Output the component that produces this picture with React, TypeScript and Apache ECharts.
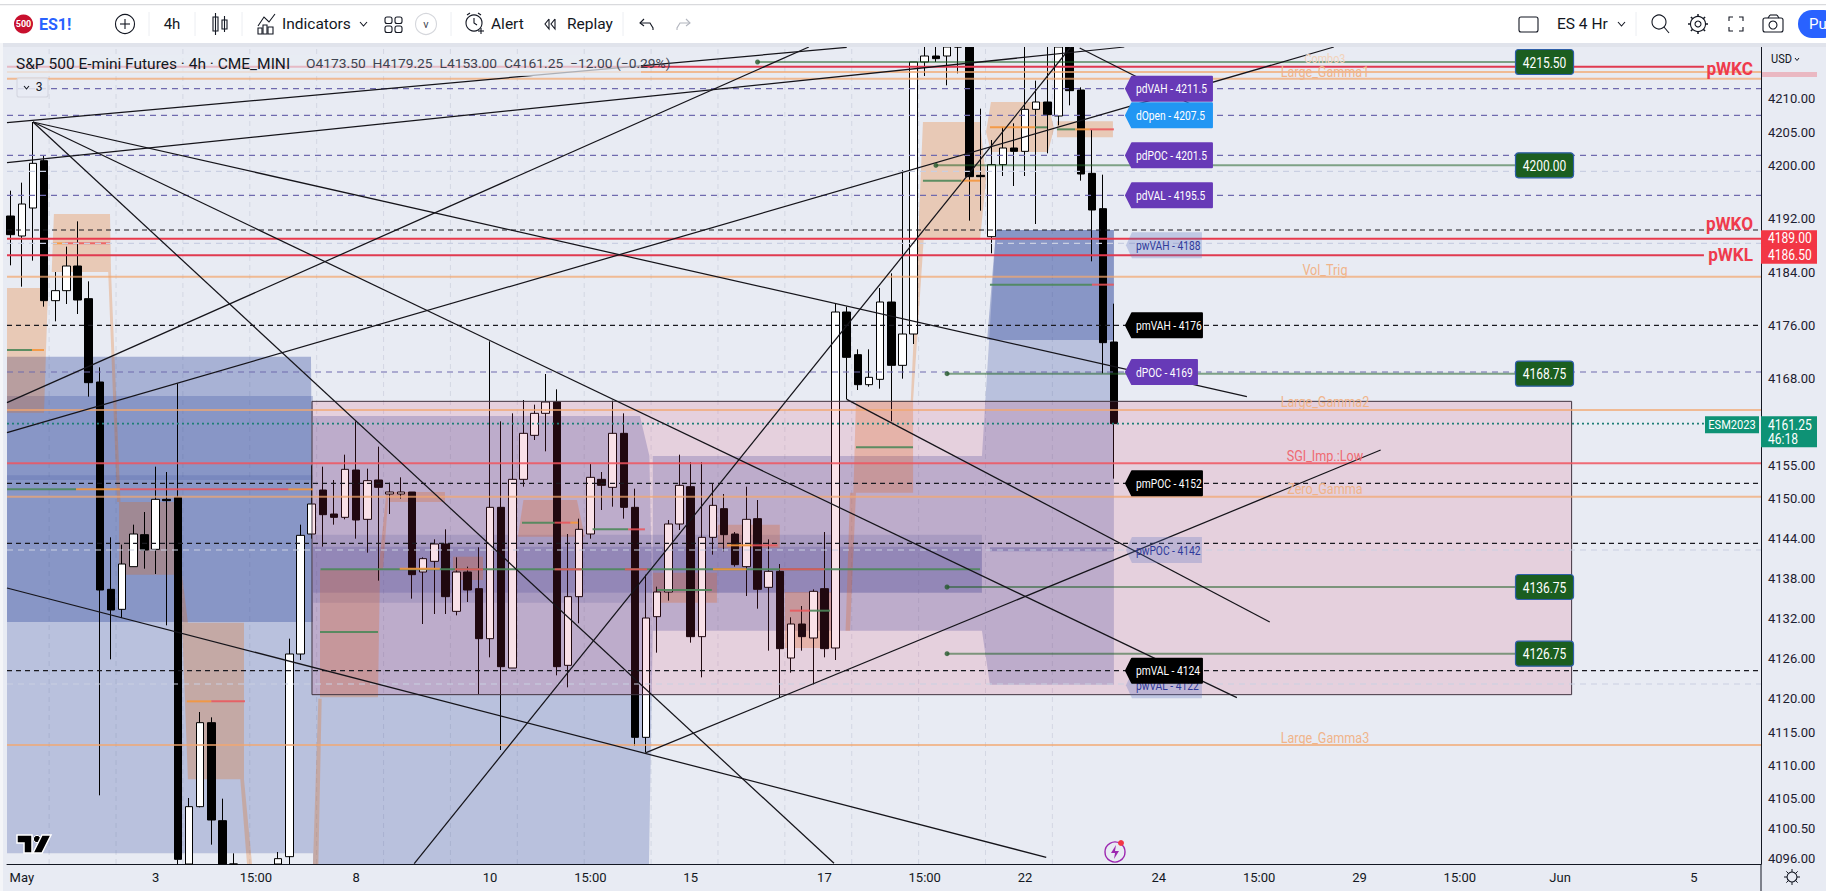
import React, { useEffect, useRef } from "react";
import * as echarts from "echarts";

// ---------- candles (bar index = array index) ----------
const opens = [4192.4,4189.4,4193.6,4200.7,4179.7,4181.2,4184.9,4180,4167.5,4136.4,4133.4,4139.8,4144.6,4142.4,4149.9,4150.2,4090,4103.8,4116.4,4101.7,4090,4088,4086,4088,4089,4096.3,4126.7,4144.7,4151.3,4147.7,4147.2,4154.3,4146.9,4152.8,4150.7,4150.7,4151,4139,4140.6,4143.2,4133.1,4139,4136.5,4129,4148.7,4124.6,4152.9,4159.5,4162.8,4164.5,4125,4135.3,4144.7,4152.9,4151.7,4159.8,4148.7,4114.2,4132.3,4136,4146.2,4151.8,4129.3,4144.2,4148.5,4144.7,4139.8,4147,4136.7,4139.1,4126.1,4131.2,4129.1,4136.5,4127.6,4178,4171.6,4167.1,4167.9,4179.5,4170,4174.7,4215.5,4216.4,4216.4,4221,4224,4198.5,4189.3,4200.1,4202.6,4202.1,4208.4,4209.5,4207.4,4220,4211.3,4198.8,4193.5,4173.5];
const closes = [4189.6,4194.2,4200.3,4179.7,4181.2,4184.9,4179.8,4167.4,4136.3,4133.3,4140.2,4144.7,4142.3,4149.9,4149.7,4095.9,4103.8,4116.4,4101.8,4090,4088,4086,4088,4089,4096,4126.7,4144.5,4149.2,4147.6,4147.2,4154.4,4146.8,4152.7,4151.7,4151,4151,4138.6,4141,4143.2,4135.3,4139,4136.3,4129,4148.7,4124.8,4152.9,4159.8,4162.8,4164.5,4124.8,4135.3,4145.4,4153.2,4152,4159.8,4148.7,4114.2,4132.1,4136,4146.2,4152,4129.3,4144.2,4149,4144.6,4140.1,4146.9,4136.4,4139.1,4127.5,4131.2,4129.3,4136.1,4127.5,4178,4171.2,4167.1,4168.2,4179.5,4170,4174.7,4215.5,4216.4,4216,4218.6,4219,4198.3,4198.3,4200.1,4202.6,4202.1,4208.4,4209.5,4207.6,4220,4211.2,4198.7,4193.3,4173.4,4161.25];
const lows = [4185,4181.8,4185.7,4178.8,4176.6,4179.2,4177.7,4165.3,4105.5,4125.9,4132.1,4139.8,4139.5,4138.7,4131,4094,4088,4103.7,4098.1,4088,4085,4084,4083,4085,4087,4095,4125.8,4144,4142.8,4146.1,4146.9,4144,4141.9,4137.7,4147.7,4150,4135,4131.2,4132.7,4132.7,4132.5,4134.5,4120.7,4126.2,4112.3,4124.6,4151.8,4158.8,4157.1,4123.5,4121.7,4131.3,4144,4148.3,4148.8,4147,4112.9,4111.9,4126.9,4134.7,4145.3,4128.4,4123.2,4141.6,4142.1,4139.8,4135.4,4133.5,4127.2,4120.2,4123.9,4127.2,4122.1,4126.2,4125.8,4164.9,4166.3,4166.8,4166.5,4161.6,4168,4173.2,4213.4,4215.5,4212,4213.8,4191.7,4193.2,4186.8,4198.4,4196.9,4198.4,4191.2,4201.8,4206,4209,4197.7,4185.6,4168.8,4153];
const highs = [4196.2,4197.4,4206.5,4201.4,4184,4187.8,4191.6,4182.6,4169.7,4144.2,4143.1,4146.1,4148,4154.8,4154,4167.3,4105.1,4118,4117.2,4105,4096.8,4090,4091,4092,4097,4129,4146.1,4155,4154.8,4152.8,4156.6,4161.6,4154.5,4157.8,4152.4,4153.2,4151,4141.2,4143.9,4145.4,4141.2,4139.8,4142.7,4173.6,4161.6,4162.8,4164.8,4164.1,4168.7,4166.4,4144.7,4147,4155.2,4154,4164.7,4162.8,4151.5,4138.6,4136.8,4146.8,4156.6,4155.5,4155.5,4152.2,4150.7,4145,4151.8,4149.8,4143.9,4140.2,4132.2,4133.9,4136.4,4145,4179.3,4178.8,4172.4,4172.4,4181.6,4183.8,4199.3,4215.5,4218,4219,4220,4225,4226,4208.5,4203.8,4205.7,4206.3,4222,4212.7,4222,4224,4224,4211.7,4205.3,4198.6,4179.25];

// ---------- axes ----------
const xTickBars = [1,13,22,31,43,52,61,73,82,91,103,112,121,130,139,151];
const xTickTexts = ["May","3","15:00","8","10","15:00","15","17","15:00","22","24","15:00","29","15:00","Jun","5"];
const gridBars = [3.45,9.45,15.45,21.45,27.45,33.45,39.45,45.45,51.45,57.45,63.45,69.45,75.45,81.45,87.45,93.45];
const priceTicks = [4210,4205,4200,4192,4184,4176,4168,4155,4150,4144,4138,4132,4126,4120,4115,4110,4105,4100.5,4096];
const X_MIN = -0.33, X_MAX = 157.02, Y_MIN = 4095.2, Y_MAX = 4217.75;

// ---------- horizontal levels ----------
const purpleLevels = [4211.5,4207.5,4201.5,4195.5,4169];
const blackLevels = [4190.3,4176,4152.3,4143.3,4124.2];
const paleLevels = [4199.1,4188.3,4142.3,4122.2];
const orangeLevels = [4214,4213,4183.3,4163.3,4150.3,4113.06];
const redShort = [4214.8,4186.5];
const redLong = [4189,4155.3];
const lastPrice = 4161.25;
const greenLevels = [4215.5,4200,4168.75,4136.75,4126.75];
const greenStartBars = [67,83,84,84,84];
const greenTexts = ["4215.50","4200.00","4168.75","4136.75","4126.75"];

// ---------- labels ----------
const flagTexts = ["pdVAH - 4211.5","dOpen - 4207.5","pdPOC - 4201.5","pdVAL - 4195.5","pwVAH - 4188","pmVAH - 4176","dPOC - 4169","pmPOC - 4152","pwPOC - 4142","pwVAL - 4122","pmVAL - 4124"];
const flagPrices = [4211.5,4207.5,4201.5,4195.5,4188,4176,4169,4152.3,4142.3,4122,4124.2];
const flagKinds = ["purple","blue","purple","purple","pale","black","purple","black","pale","pale","black"];
const levelTexts = ["Combo3","Large_Gamma1","Vol_Trig","Large_Gamma2","SGI_Imp.:Low","Zero_Gamma","Large_Gamma3"];
const levelTextPrices = [4216,4214,4184.3,4164.4,4156.3,4151.4,4114.1];
const weekTexts = ["pWKC","pWKO","pWKL"];
const weekTextPrices = [4214.5,4191.2,4186.6];

// ---------- trend lines: [bar, price, bar, price] ----------
const trendLines = [
  [2,4206.5,110.9,4165.3],[2,4206.5,110,4120.15],[2,4206.5,73.86,4095.3],
  [-0.33,4164.4,71.6,4217.75],[-0.33,4159.9,118.7,4217.75],[-0.33,4200.4,99.9,4217.75],[-0.33,4206.4,75,4217.7],
  [36.2,4095.25,95.1,4217.75],[57,4111.9,122.9,4157.3],[-0.33,4136.6,92.9,4096.2],[75,4164.9,112.95,4131.5],[95.9,4217.6,106.9,4208.3],
];

// ---------- zones: lists of [bar, price] ----------
const orangeZones = [
  [[-0.33,4181.6],[3.35,4181.6],[2.99,4162.9],[-0.33,4162.9]],
  [[3.88,4192.7],[8.91,4192.7],[9,4184],[3.68,4184]],
  [[8.75,4184],[9,4184],[9.85,4149.5],[9.55,4149.5]],
  [[9.72,4149.5],[15.37,4149.5],[15.37,4138.6],[9.72,4138.6]],
  [[15.2,4138.6],[15.37,4138.6],[15.9,4131.4],[15.4,4131.4]],
  [[15.37,4131.4],[20.93,4131.4],[20.93,4107.9],[15.9,4107.9]],
  [[20.6,4107.9],[20.93,4107.9],[21.65,4095.2],[21.2,4095.2]],
  [[27.12,4095.2],[27.6,4095.2],[27.9,4120],[27.6,4120]],
  [[27.75,4139.3],[33.13,4139.3],[32.95,4120.2],[27.75,4120.2]],
  [[33,4139.3],[33.4,4139.3],[33.9,4150.9],[33.7,4150.9]],
  [[34.03,4151],[38.96,4151],[38.96,4149.5],[34.03,4149.5]],
  [[39.68,4141.3],[42.37,4141.3],[42.37,4137.8],[39.68,4137.8]],
  [[46,4149.8],[50.8,4149.8],[51.5,4144.3],[45.5,4144.3]],
  [[57.62,4138.9],[63.36,4138.9],[63.36,4134.4],[57.62,4134.4]],
  [[63.45,4146.1],[69,4146.1],[69,4142.6],[63.45,4142.6]],
  [[69.46,4136],[73.68,4136],[73.68,4127.6],[69.46,4127.6]],
  [[75.83,4164.7],[80.95,4164.7],[80.95,4150.9],[75.6,4150.9]],
  [[75.3,4150.9],[75.83,4150.9],[75.3,4130.2],[74.9,4130.2]],
  [[80.75,4164.7],[80.95,4164.7],[81.9,4188.8],[81.4,4188.8]],
  [[81.84,4206.5],[86.96,4206.5],[87.5,4198],[86.96,4188.8],[81.4,4188.8]],
  [[87.94,4209.5],[93.05,4209.5],[93.6,4205.5],[93.05,4202],[87.94,4202],[87.5,4205]],
  [[93.86,4206.6],[98.88,4206.6],[98.88,4204.2],[93.86,4204.2]],
];
const blueHeavyZones = [
  [[-0.33,4171.3],[26.94,4171.3],[27.12,4131.5],[-0.33,4131.5]],
  [[27.12,4142.8],[87.13,4142.8],[87.13,4135.9],[27.12,4135.9]],
  [[88.39,4190.3],[98.97,4190.3],[98.97,4173.8],[87.6,4173.8]],
  [[87.85,4142.7],[98.97,4142.7],[98.97,4142.1],[87.85,4142.1]],
];
const blueLightZones = [
  [[-0.33,4165.4],[27.12,4165.4],[27.12,4096.8],[-0.33,4096.8]],
  [[27.12,4162.4],[56.45,4162.4],[57.3,4156.4],[57.6,4130.2],[57.26,4095.2],[27.12,4095.2]],
  [[57.6,4156.4],[87.13,4156.4],[87.13,4130.2],[57.6,4130.2]],
  [[88.39,4190.3],[98.97,4190.3],[98.97,4122.1],[87.85,4122.1],[87.13,4130.2],[87.13,4156.4]],
];
const blueFaintZones = [
  [[27.12,4144.6],[87.13,4144.6],[87.13,4142.8],[27.12,4142.8]],
  [[27.12,4135.9],[57,4135.9],[57,4134.4],[27.12,4134.4]],
  [[-0.33,4153.5],[27.12,4153.5],[27.12,4152.8],[-0.33,4152.8]],
];
const boxCorners = [27.03,4164.6,140.03,4120.6];

// ---------- short value-area segments: [bar, bar, price] ----------
const greenSegs = [[-0.33,1.91,4172.3],[-0.33,5.86,4151.4],[27.8,86.96,4139.4],[27.75,32.95,4130],[45.87,48.8,4146.4],[52.2,55.4,4145.4],[57.98,62.9,4136.3],[71.7,73.5,4133.2],[75.83,80.95,4157.7],[81.84,85.3,4197.7],[91.9,92.97,4205.7],[93.86,95.5,4205.4],[87.85,97,4182.1]];
const orangeSegs = [[1.91,2.99,4172.3],[3.8,4.87,4188.3],[5.86,9.8,4151.4],[24.9,27.12,4151.4],[15.8,18,4119.6],[34.9,38.5,4139.5],[63,66,4139.4],[50.2,50.9,4146.4],[85.3,86.96,4197.7],[87.85,91.9,4205.7],[95.5,96.8,4205.4],[64.26,66.5,4143]];
const redSegs = [[4.87,8.91,4188.3],[9.8,24.9,4151.4],[18,21.02,4119.6],[39.86,42.37,4139.4],[48.8,51.2,4139.4],[55.1,57.1,4139.4],[69,73,4139.4],[48.8,50.2,4146.4],[55.4,56.9,4145.4],[69.9,71.7,4133.2],[96.8,98.97,4205.4],[97,98.97,4182.1],[66.5,68.8,4143]];

const FONT = 'Roboto,"Noto Sans",sans-serif';
const INK = "#131722";
const clampY = (v: number) => Math.min(Y_MAX, Math.max(Y_MIN, v));
const fnt = (size: number, bold = false) => `${bold ? "bold " : ""}${size}px ${FONT}`;

function hLine(p: number, b0: number, b1: number, color: string, width: number, type: any, z: number, opacity = 1) {
  return {
    type: "line", data: [[b0, p], [b1, p]], symbol: "none", silent: true, z,
    lineStyle: { color, width, type, opacity },
  };
}

function polySeries(zones: number[][][], fill: string, z: number, stroke?: string) {
  return {
    type: "custom", coordinateSystem: "cartesian2d", z, silent: true,
    data: zones.map((pts, i) => [pts[0][0], pts[0][1], i]),
    renderItem: (_: any, api: any) => {
      const pts = zones[api.value(2)];
      return {
        type: "polygon",
        shape: { points: pts.map((q) => api.coord(q)) },
        style: { fill, stroke: stroke || "none", lineWidth: stroke ? 1 : 0 },
      };
    },
  };
}

function segSeries(segs: number[][], color: string, z: number) {
  return {
    type: "custom", coordinateSystem: "cartesian2d", z, silent: true,
    data: segs,
    renderItem: (_: any, api: any) => {
      const a = api.coord([api.value(0), api.value(2)]);
      const b = api.coord([api.value(1), api.value(2)]);
      return { type: "line", shape: { x1: a[0], y1: a[1], x2: b[0], y2: b[1] }, style: { stroke: color, lineWidth: 2 } };
    },
    encode: { x: [0, 1], y: 2 },
  };
}

const flagStyle: Record<string, { bg: string; fg: string; edge: string }> = {
  purple: { bg: "#673ab7", fg: "#ffffff", edge: "#673ab7" },
  blue: { bg: "#2196f3", fg: "#ffffff", edge: "#2196f3" },
  black: { bg: "#000000", fg: "#ffffff", edge: "#000000" },
  pale: { bg: "rgba(90,110,190,0.28)", fg: "#2f3a9a", edge: "none" },
};

// text that can be squeezed sideways, as the reference's is
function stext(text: string, x: number, y: number, size: number, fill: string, align = "left", sx = 1, bold = false): any {
  return {
    type: "text", x, y, scaleX: sx,
    style: { text, x: 0, y: 0, font: fnt(size, bold), fill, textAlign: align, textVerticalAlign: "middle", align, verticalAlign: "middle" },
  };
}
const txt = (text: string, x: number, y: number, size: number, fill: string, align = "left", bold = false) => stext(text, x, y, size, fill, align, 1, bold);
function ln(x1: number, y1: number, x2: number, y2: number, stroke = INK, lineWidth = 1.1): any {
  return { type: "line", shape: { x1, y1, x2, y2 }, style: { stroke, lineWidth } };
}
function cir(cx: number, cy: number, r: number, stroke = INK, fill = "none", lineWidth = 1.1): any {
  return { type: "circle", shape: { cx, cy, r }, style: { stroke, fill, lineWidth } };
}
function box(x: number, y: number, width: number, height: number, fill: string, stroke = "none", r = 0, lineWidth = 1.1): any {
  return { type: "rect", shape: { x, y, width, height, r }, style: { fill, stroke, lineWidth } };
}
function pl(points: number[][], stroke = INK, lineWidth = 1.1): any {
  return { type: "polyline", shape: { points }, style: { stroke, fill: "none", lineWidth } };
}
function pg(points: number[][], fill: string, stroke = "none", lineWidth = 0): any {
  return { type: "polygon", shape: { points }, style: { fill, stroke, lineWidth } };
}

function chromeElements(): any[] {
  const els: any[] = [];
  // page strips
  els.push(box(0, 0, 1826, 43, "#ffffff"));
  els.push(box(0, 4, 1826, 1.2, "#d9dadd"));
  els.push(box(0, 43, 1826, 4, "#e0e3eb"));
  els.push(box(0, 43, 3, 850, "#f4f5f8"));
  els.push(box(0, 891, 1826, 2, "#ffffff"));
  // symbol
  els.push(cir(23.5, 24, 9.5, "none", "#c8102e"));
  els.push(txt("500", 23.5, 24, 9, "#ffffff", "center", true));
  els.push(txt("ES1!", 39, 24, 16, "#2962ff", "left", true));
  // add symbol
  els.push(cir(125, 24, 9.5));
  els.push(ln(120, 24, 130, 24), ln(125, 19, 125, 29));
  els.push(txt("4h", 172, 24, 15, INK, "center"));
  // bars icon
  els.push(box(213, 17, 5, 14, "none", INK), ln(215.5, 13, 215.5, 35));
  els.push(box(222, 20, 5, 9, "none", INK), ln(224.5, 16, 224.5, 32));
  // indicators
  els.push(pl([[258, 26], [264, 17], [269, 22], [275, 14]]));
  els.push(box(258, 28, 4, 6, "none", INK), box(263, 25, 4, 9, "none", INK), box(268, 27, 5, 7, "none", INK));
  els.push(txt("Indicators", 282, 24, 15.5, INK));
  els.push(pl([[360, 22], [363.5, 26], [367, 22]]));
  // layouts
  [[385, 17], [395, 17], [385, 26], [395, 26]].forEach(([x, y]) => els.push(box(x, y, 7, 6.5, "none", INK, 2)));
  els.push(cir(426, 24, 10.5, "#d5d7dc"), txt("v", 426, 24, 11, "#444a57", "center"));
  // alert
  els.push(cir(474, 23, 8), pl([[474, 18], [474, 23], [477, 25]]), ln(467, 15, 470, 13), ln(481, 15, 478, 13), ln(481, 28, 481, 34), ln(478, 31, 484, 31));
  els.push(txt("Alert", 491, 24, 15.5, INK));
  // replay
  els.push(pl([[549, 19], [545, 24], [549, 29], [549, 19]]), pl([[555, 19], [551, 24], [555, 29], [555, 19]]));
  els.push(txt("Replay", 567, 24, 15.5, INK));
  // undo redo
  els.push(pl([[644, 19], [640, 23], [644, 26]]), pl([[640, 23], [650, 23], [653, 28], [653, 30]]));
  els.push(pl([[686, 19], [690, 23], [686, 26]], "#b2b5be"), pl([[690, 23], [680, 23], [677, 28], [677, 30]], "#b2b5be"));
  // separators
  [149, 195, 242, 451, 623, 1636].forEach((x) => els.push(ln(x, 12, x, 36, "#eceef2", 1)));
  // right side
  els.push(box(1519, 17, 19, 15, "none", INK, 2));
  els.push(txt("ES 4 Hr", 1557, 24, 15.5, INK));
  els.push(pl([[1618, 22], [1621.5, 26], [1625, 22]]));
  els.push(cir(1659, 22, 7), ln(1664, 27, 1669, 33));
  els.push(cir(1698, 24, 3));
  els.push(cir(1698, 24, 7.5));
  [0, 45, 90, 135, 180, 225, 270, 315].forEach((d) => {
    const r = (d * Math.PI) / 180;
    els.push(ln(1698 + 7.5 * Math.cos(r), 24 + 7.5 * Math.sin(r), 1698 + 10 * Math.cos(r), 24 + 10 * Math.sin(r), INK, 1.5));
  });
  [[1729, 17, 1], [1743, 17, -1]].forEach(([x, y, s]) => {
    els.push(pl([[x + 4 * s, y], [x, y], [x, y + 4]]), pl([[x + 4 * s, y + 14], [x, y + 14], [x, y + 10]]));
  });
  els.push(box(1763, 18, 20, 14, "none", INK, 2), cir(1773, 25, 4), ln(1768, 18, 1770, 15), ln(1770, 15, 1777, 15), ln(1777, 15, 1779, 18));
  els.push(box(1798, 10, 40, 28, "#2962ff", "none", 14));
  els.push(txt("Pu", 1809, 24, 15, "#ffffff"));
  // title
  els.push(box(7, 55, 634, 21, "rgba(232,235,243,0.72)"));
  els.push(stext("S&P 500 E-mini Futures · 4h · CME_MINI", 16, 63.5, 15.5, INK, "left", 1));
  els.push(stext("O4173.50  H4179.25  L4153.00  C4161.25  −12.00 (−0.29%)", 306, 64, 13, "#3f4350", "left", 1.063));
  els.push(box(17, 78, 31, 19, "rgba(232,235,243,0.85)", "#d3d6e0", 2));
  els.push(pl([[24, 86], [26.5, 89], [29, 86]]), txt("3", 39, 87, 12, INK, "center"));
  // price-axis header
  els.push(stext("USD", 1771, 59, 13, INK, "left", 0.85));
  els.push(pl([[1795, 58], [1797, 60.5], [1799, 58]], INK, 1));
  els.push(box(1762, 72, 55, 5, "rgba(242,54,69,0.28)"));
  // logo
  els.push(pg([[17, 835], [32, 835], [32, 853], [24, 853], [24, 843], [17, 843]], "#000", "#fff", 1.5));
  els.push(cir(37, 839, 3.6, "#fff", "#000", 1));
  els.push(pg([[42, 835], [51, 835], [42, 853], [33, 853]], "#000", "#fff", 1.5));
  // lightning
  els.push(cir(1115, 852, 10, "#9c27b0", "none", 1.4));
  els.push(pg([[1116, 845], [1111, 853], [1115, 853], [1114, 859], [1119, 851], [1115, 851]], "#9c27b0"));
  els.push(cir(1121, 843, 3, "none", "#f23645"));
  // settings gear, bottom right
  els.push(cir(1792, 877, 5));
  [0, 45, 90, 135, 180, 225, 270, 315].forEach((d) => {
    const r = (d * Math.PI) / 180;
    els.push(ln(1792 + 5 * Math.cos(r), 877 + 5 * Math.sin(r), 1792 + 8 * Math.cos(r), 877 + 8 * Math.sin(r), INK, 1));
  });
  els.push(ln(1761, 864, 1761, 891, INK, 1));
  return els.map((e) => ({ ...e, z: 50 }));
}

function buildOption(): any {
  // The candlestick series is not clipped by its grid, so what leaves the plot is cut here.
  const candleData = opens
    .map((o, i) => [i, clampY(o), clampY(closes[i]), clampY(lows[i]), clampY(highs[i])])
    .filter((_, i) => highs[i] > Y_MIN && lows[i] < Y_MAX);
  const series: any[] = [];

  // vertical grid
  gridBars.forEach((b) => {
    series.push({
      type: "line", data: [[b, Y_MIN], [b, Y_MAX]], symbol: "none", silent: true, z: 0,
      lineStyle: { color: "#d3d7e3", width: 1, type: [5, 4] },
    });
  });

  series.push(polySeries(blueLightZones, "rgba(33,60,150,0.236)", 1));
  series.push(polySeries(blueFaintZones, "rgba(33,60,150,0.15)", 1));
  series.push(polySeries(blueHeavyZones, "rgba(33,60,150,0.32)", 1));
  series.push(polySeries(orangeZones, "rgba(232,101,0,0.25)", 1));

  series.push({
    type: "candlestick", data: candleData, encode: { x: 0, y: [1, 2, 3, 4] }, barWidth: 8, z: 2, silent: true, clip: true,
    itemStyle: { color: "#ffffff", color0: "#000000", borderColor: "#000000", borderColor0: "#000000", borderWidth: 1 },
  });

  const [bx0, py0, bx1, py1] = boxCorners;
  series.push(polySeries([[[bx0, py0], [bx1, py0], [bx1, py1], [bx0, py1]]], "rgba(212,55,103,0.15)", 3, "#40343f"));

  series.push(segSeries(greenSegs, "rgba(76,135,90,0.9)", 4));
  series.push(segSeries(orangeSegs, "rgba(245,150,60,0.9)", 4));
  series.push(segSeries(redSegs, "rgba(235,85,90,0.85)", 4));

  paleLevels.forEach((p) => series.push(hLine(p, X_MIN, X_MAX, "#c9cfe2", 1.2, [6, 5], 5)));
  purpleLevels.forEach((p) => series.push(hLine(p, X_MIN, X_MAX, "#6f6aae", 1.2, [6, 5], 5)));
  blackLevels.forEach((p) => series.push(hLine(p, X_MIN, X_MAX, "#1a1a20", 1.2, [5, 4], 5)));
  orangeLevels.forEach((p) => series.push(hLine(p, X_MIN, X_MAX, "#f2a66e", 2, "solid", 5, 0.72)));
  series.push(hLine(lastPrice, X_MIN, 151.9, "#1f7f77", 1.6, [2, 3], 5));
  greenLevels.forEach((p, i) => series.push(hLine(p, greenStartBars[i], 135, "rgba(27,94,32,0.52)", 2, "solid", 6)));
  redShort.forEach((p) => series.push(hLine(p, X_MIN, 151.9, "#e03a50", 2, "solid", 6)));
  series.push(hLine(redLong[0], X_MIN, X_MAX, "#e83a4c", 2, "solid", 6));
  series.push(hLine(redLong[1], X_MIN, X_MAX, "#f0555f", 2, "solid", 6, 0.85));

  trendLines.forEach((t) => {
    series.push({
      type: "line", data: [[t[0], t[1]], [t[2], t[3]]], symbol: "none", silent: true, z: 7, clip: true,
      lineStyle: { color: "#15141a", width: 1.25 },
    });
  });

  // dots at the start of the green levels
  series.push({
    type: "scatter", data: greenLevels.map((p, i) => [greenStartBars[i], p]), symbolSize: 5, silent: true, z: 8,
    itemStyle: { color: "#24592c" },
  });

  // flags
  series.push({
    type: "custom", coordinateSystem: "cartesian2d", z: 9, silent: true,
    data: flagPrices.map((p) => [100.05, p]),
    renderItem: (params: any, api: any) => {
      const i = params.dataIndex;
      const c = api.coord([api.value(0), api.value(1)]);
      const s = flagStyle[flagKinds[i]];
      const text = flagTexts[i];
      const w = 10 + text.length * 5;
      const x = c[0], y = c[1], h = s.edge === "none" ? 13 : 12;
      return {
        type: "group",
        children: [
          { type: "polygon", shape: { points: [[x, y], [x + 6, y - h], [x + 6 + w, y - h], [x + 6 + w, y + h], [x + 6, y + h]] }, style: { fill: s.bg, stroke: s.edge, lineWidth: s.edge === "none" ? 0 : 2, lineJoin: "round" } },
          stext(text, x + 10, y, 13.5, s.fg, "left", 0.76),
        ],
      };
    },
  });

  // green price tags
  series.push({
    type: "custom", coordinateSystem: "cartesian2d", z: 9, silent: true,
    data: greenLevels.map((p) => [137.6, p]),
    renderItem: (params: any, api: any) => {
      const c = api.coord([api.value(0), api.value(1)]);
      return {
        type: "group",
        children: [
          { type: "rect", shape: { x: c[0] - 29, y: c[1] - 12.5, width: 58, height: 25, r: 3 }, style: { fill: "#1b5e20", stroke: "#2e5fa8", lineWidth: 1.2 } },
          stext(greenTexts[params.dataIndex], c[0], c[1], 15, "#ffffff", "center", 0.8),
        ],
      };
    },
  });

  // level names
  series.push({
    type: "custom", coordinateSystem: "cartesian2d", z: 9, silent: true,
    data: levelTextPrices.map((p) => [117.9, p]),
    renderItem: (params: any, api: any) => {
      const c = api.coord([api.value(0), api.value(1)]);
      const t = levelTexts[params.dataIndex];
      const fill = t.startsWith("SGI") ? "#ef6a72" : t === "Combo3" ? "#f2d3bb" : "#f0b48a";
      return stext(t, c[0], c[1], t === "Combo3" ? 12 : 14, fill, "center", 0.9);
    },
  });

  // weekly names
  series.push({
    type: "custom", coordinateSystem: "cartesian2d", z: 9, silent: true,
    data: weekTextPrices.map((p) => [156.3, p]),
    renderItem: (params: any, api: any) => {
      const c = api.coord([api.value(0), api.value(1)]);
      return stext(weekTexts[params.dataIndex], c[0], c[1], 17.5, "#ef3b4d", "right", 0.98, true);
    },
  });

  // axis price tags
  const axisTagPrices = [redLong[0], redShort[1]];
  const axisTagTexts = ["4189.00", "4186.50"];
  series.push({
    type: "custom", coordinateSystem: "cartesian2d", z: 10, silent: true,
    data: axisTagPrices.map((p) => [X_MAX, p]),
    renderItem: (params: any, api: any) => {
      const c = api.coord([api.value(0), api.value(1)]);
      return {
        type: "group",
        children: [
          { type: "rect", shape: { x: c[0], y: c[1] - 8.5, width: 56, height: 17 }, style: { fill: "#f23645" } },
          stext(axisTagTexts[params.dataIndex], c[0] + 7, c[1], 14, "#ffffff", "left", 0.86),
        ],
      };
    },
  });
  series.push({
    type: "custom", coordinateSystem: "cartesian2d", z: 10, silent: true,
    data: [[X_MAX, lastPrice]],
    renderItem: (_: any, api: any) => {
      const c = api.coord([api.value(0), api.value(1)]);
      const top = c[1] - 7.5;
      return {
        type: "group",
        children: [
          { type: "rect", shape: { x: c[0] - 56, y: top, width: 54, height: 17 }, style: { fill: "#0e9275" } },
          stext("ESM2023", c[0] - 29, top + 8.5, 13.5, "#ffffff", "center", 0.82),
          { type: "rect", shape: { x: c[0], y: top, width: 56, height: 31 }, style: { fill: "#0e9275" } },
          stext(lastPrice.toFixed(2), c[0] + 7, top + 9, 14, "#ffffff", "left", 0.86),
          stext("46:18", c[0] + 7, top + 23, 14, "#ffffff", "left", 0.86),
        ],
      };
    },
  });

  return {
    animation: false,
    backgroundColor: "#e8ebf3",
    grid: { left: 7, right: 65, top: 47, bottom: 29, containLabel: false },
    xAxis: {
      type: "value", min: X_MIN, max: X_MAX, splitLine: { show: false },
      axisLine: { show: true, onZero: false, lineStyle: { color: INK, width: 1 } },
      axisTick: { show: false },
      axisLabel: {
        customValues: xTickBars, color: INK, margin: 7, fontFamily: FONT, fontSize: 13,
        formatter: (v: number) => xTickTexts[xTickBars.indexOf(v)] ?? "",
      },
    },
    yAxis: {
      type: "value", position: "right", min: Y_MIN, max: Y_MAX, splitLine: { show: false },
      axisLine: { show: true, onZero: false, lineStyle: { color: INK, width: 1 } },
      axisTick: { show: false },
      axisLabel: {
        customValues: priceTicks, color: "#1c2030", margin: 7, fontFamily: FONT, fontSize: 13,
        formatter: (v: number) => v.toFixed(2),
      },
    },
    graphic: { elements: chromeElements() },
    series,
  };
}

export default function App() {
  const ref = useRef<HTMLDivElement>(null);
  useEffect(() => {
    document.body.style.margin = "0";
    const chart = echarts.init(ref.current!, undefined, { renderer: "svg" });
    chart.setOption(buildOption());
    return () => chart.dispose();
  }, []);
  return <div ref={ref} style={{ position: "absolute", left: 0, top: 0, width: 1826, height: 893 }} />;
}
